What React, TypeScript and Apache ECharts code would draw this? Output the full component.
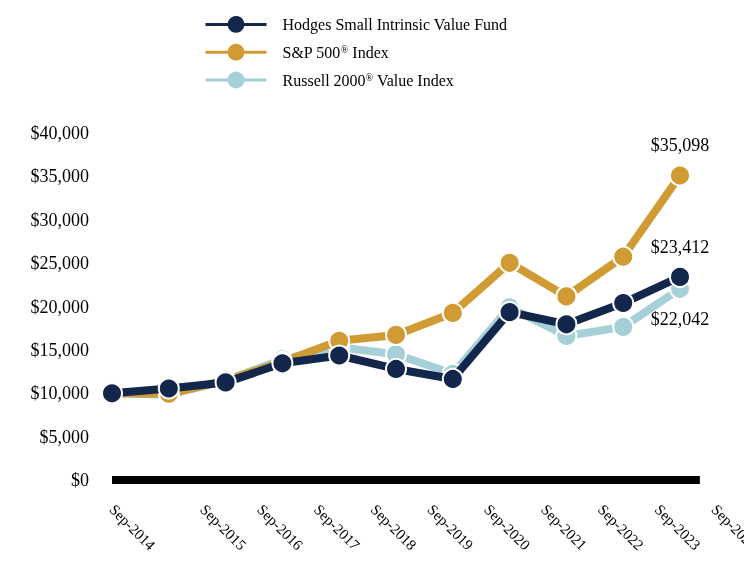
import React, { useEffect, useRef } from "react";
import * as echarts from "echarts";

const xLabels = [
  "Sep-2014", "Sep-2015", "Sep-2016", "Sep-2017", "Sep-2018", "Sep-2019",
  "Sep-2020", "Sep-2021", "Sep-2022", "Sep-2023", "Sep-2024",
];
const hodges = [10000, 10550, 11250, 13450, 14350, 12800, 11650, 19350, 17950, 20400, 23412];
const sp500 = [10000, 9939, 11472, 13607, 16044, 16726, 19260, 25038, 21165, 25741, 35098];
const russell = [10000, 9840, 11470, 13900, 15300, 14500, 12250, 19900, 16600, 17650, 22042];

const seriesNames = ["Hodges Small Intrinsic Value Fund", "S&P 500® Index", "Russell 2000® Value Index"];
const colors = ["#13264c", "#cf9b32", "#a6d0d8"];

const FONT = "Liberation Serif";
const money = (v: number) => "$" + Math.round(v).toLocaleString("en-US");

export default function App() {
  const ref = useRef<HTMLDivElement>(null);
  useEffect(() => {
    if (!ref.current) return;
    const chart = echarts.init(ref.current, undefined, { renderer: "svg" });
    const last = hodges.length - 1;
    const mk = (vals: number[], labelPos: string, dist: number) =>
      vals.map((v, i) =>
        i === last
          ? {
              value: [i, v],
              label: {
                show: true,
                position: labelPos,
                distance: dist,
                formatter: () => money(v),
                fontFamily: FONT,
                fontSize: 18,
                color: "#000",
              },
            }
          : { value: [i, v] }
      );
    const mkSeries = (idx: number, vals: number[], labelPos: string, dist: number, z: number) => ({
      name: seriesNames[idx],
      type: "line",
      xAxisIndex: 0,
      yAxisIndex: 0,
      data: mk(vals, labelPos, dist),
      symbol: "circle",
      symbolSize: 20,
      z,
      color: colors[idx],
      lineStyle: { width: 8, color: colors[idx] },
      itemStyle: { color: colors[idx], borderColor: "#fff", borderWidth: 2 },
    });
    const unit = 56.8;
    const left = 112;
    const max0 = 10.35;
    const max1 = 11.1;
    chart.setOption({
      animation: false,
      textStyle: { fontFamily: FONT },
      legend: {
        orient: "vertical",
        left: 199,
        top: 11,
        itemWidth: 61,
        itemHeight: 21,
        itemGap: 11,
        data: seriesNames,
        lineStyle: { width: 3 },
        itemStyle: { borderWidth: 0 },
        formatter: (name: string) => name.replace("®", "{sup|®}"),
        textStyle: {
          fontFamily: FONT,
          fontSize: 16,
          color: "#000",
          padding: [0, 0, 0, 11],
          rich: {
            sup: { fontFamily: FONT, fontSize: 10, color: "#000", padding: [0, 0, 6, 0] },
          },
        },
      },
      grid: [
        { left, right: 744 - left - max0 * unit, top: 133, bottom: 108, outerBoundsMode: "none" },
        { left, right: 744 - left - max1 * unit, top: 133, bottom: 108, outerBoundsMode: "none" },
      ],
      xAxis: [
        {
          type: "value",
          gridIndex: 0,
          min: 0,
          max: max0,
          axisLine: { show: true, lineStyle: { color: "#000", width: 8, cap: "butt" } },
          axisTick: { show: false },
          axisLabel: { show: false },
          splitLine: { show: false },
        },
        {
          type: "value",
          gridIndex: 1,
          min: 0,
          max: max1,
          interval: 0.1,
          axisLine: { show: false },
          axisTick: { show: false },
          splitLine: { show: false },
          axisLabel: {
            show: true,
            rotate: -45,
            margin: 27,
            fontFamily: FONT,
            fontSize: 15,
            color: "#000",
            showMinLabel: true,
            showMaxLabel: true,
            formatter: (v: number) => {
              const k = Math.round(v * 10);
              if (k === 0) return xLabels[0];
              if (k >= 16 && (k - 6) % 10 === 0) {
                const idx = (k - 6) / 10;
                return xLabels[idx] ?? "";
              }
              return "";
            },
          },
        },
      ],
      yAxis: [
        {
          type: "value",
          gridIndex: 0,
          min: 0,
          max: 40000,
          interval: 5000,
          axisLine: { show: false },
          axisTick: { show: false },
          splitLine: { show: false },
          axisLabel: {
            margin: 23,
            fontFamily: FONT,
            fontSize: 18,
            color: "#000",
            formatter: (v: number) => money(v),
          },
        },
        {
          type: "value",
          gridIndex: 1,
          min: 0,
          max: 40000,
          show: false,
        },
      ],
      series: [
        mkSeries(2, russell, "bottom", 10, 2),
        mkSeries(1, sp500, "top", 11, 3),
        mkSeries(0, hodges, "top", 10, 4),
      ],
    });
    return () => chart.dispose();
  }, []);
  return (
    <div
      ref={ref}
      style={{ position: "fixed", left: 0, top: 0, width: 744, height: 588 }}
    />
  );
}
